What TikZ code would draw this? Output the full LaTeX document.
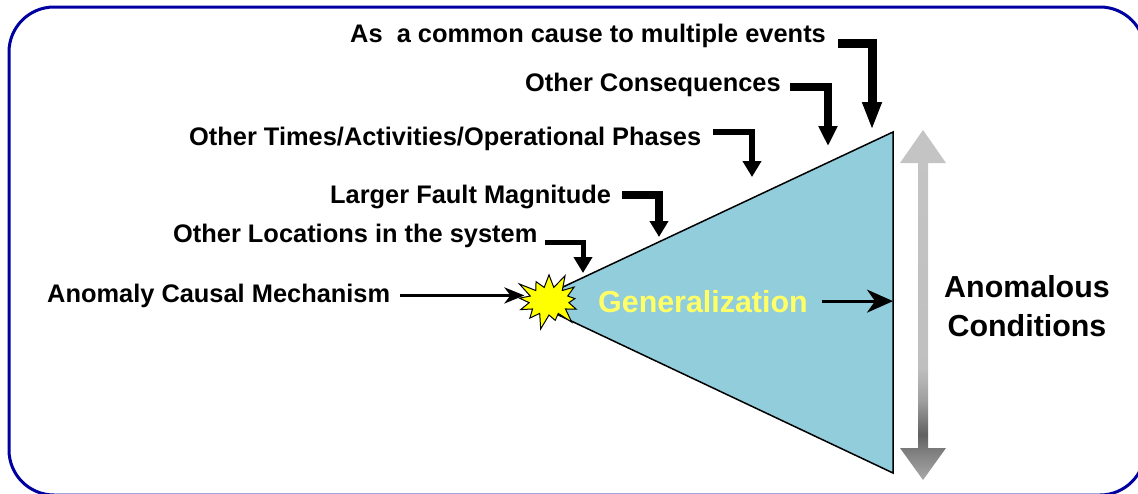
\documentclass[tikz,border=0pt]{standalone}
\usepackage{fontspec}
\setmainfont{Liberation Sans}
\usetikzlibrary{arrows.meta,shapes.symbols}
\definecolor{boxblue}{HTML}{0000A0}
\definecolor{coneblue}{HTML}{92CDDC}
\definecolor{genyellow}{HTML}{FFFF66}
\definecolor{starfill}{HTML}{FFFF00}
\definecolor{grA}{gray}{0.66}
\definecolor{grB}{gray}{0.50}
\definecolor{grC}{gray}{0.38}
\definecolor{grD}{gray}{0.63}
\definecolor{grE}{gray}{0.75}
\definecolor{grF}{gray}{0.77}
\pgfdeclareverticalshading{rangegray}{100bp}{color(0bp)=(grA); color(25bp)=(grA);
  color(29bp)=(grB); color(31.5bp)=(grC); color(36.5bp)=(grD); color(41bp)=(grE);
  color(75bp)=(grF); color(100bp)=(grF)}
\begin{document}
\begin{tikzpicture}[x=1pt,y=-1pt, line join=miter,
    lbl/.style={font=\fontsize{25.4}{30}\selectfont\bfseries, inner sep=0pt, anchor=base west},
    big/.style={font=\fontsize{30.4}{38}\selectfont\bfseries, inner sep=0pt},
    elbow/.style args={#1/#2}{line width=#1, -{Triangle[length=#2, width=18pt]}},
    thinarrow/.style={line width=3pt, -{Stealth[length=20pt, width=16pt, inset=6pt]}},
    genarrow/.style={line width=3pt, -{Stealth[length=26pt, width=23pt, inset=8pt]}}]
    \useasboundingbox (0,0) rectangle (1138,493);
    % frame
    \draw[boxblue, line width=3pt, rounded corners=45pt] (9,7) rectangle (1145,495);
    % range arrow
    \shade[shading=rangegray] (923,130) -- (946,163) -- (928,163) -- (928,448) -- (946,448)
        -- (923,480) -- (900,448) -- (918,448) -- (918,163) -- (900,163) -- cycle;
    % cone
    \coordinate (apex) at (531,302);
    \coordinate (topr) at (893,132);
    \coordinate (botr) at (893,473);
    \draw[fill=coneblue, line width=1.5pt] (apex) -- (topr) -- (botr) -- cycle;
    \node[starburst, draw, fill=starfill, line width=1pt, starburst points=13,
        starburst point height=17pt, minimum width=74pt, minimum height=62pt,
        inner sep=0pt] (burst) at (549,301) {};
    % labels
    \node[lbl] (events) at (350,42) {As\ \ a common cause to multiple events};
    \node[lbl] (conseq) at (525,91) {Other Consequences};
    \node[lbl] (times) at (189,145) {Other Times/Activities/Operational Phases};
    \node[lbl] (magn) at (330,203) {Larger Fault Magnitude};
    \node[lbl] (locat) at (173,242) {Other Locations in the system};
    \node[lbl] (causal) at (47,302) {Anomaly Causal Mechanism};
    \node[big, text=genyellow, anchor=base west] (gen) at (598,312) {Generalization};
    \node[big, align=center] (cond) at (1027,306) {Anomalous\\[1pt]Conditions};
    % bent arrows
    \coordinate (s1) at (838,43);  \coordinate (t1) at (872,130);
    \coordinate (s2) at (790,87);  \coordinate (t2) at (828,146);
    \coordinate (s3) at (713,132); \coordinate (t3) at (752,177);
    \coordinate (s4) at (622,195); \coordinate (t4) at (659,237);
    \coordinate (s5) at (545,242); \coordinate (t5) at (583,273);
    \draw[elbow=9pt/28pt] (s1) -| (t1);
    \draw[elbow=8pt/20pt] (s2) -| (t2);
    \draw[elbow=6pt/16pt] (s3) -| (t3);
    \draw[elbow=8pt/16pt] (s4) -| (t4);
    \draw[elbow=5pt/16pt] (s5) -| (t5);
    \draw[thinarrow] ([xshift=10pt]causal.east) -- (causal.east -| burst.west);
    \draw[genarrow] ([xshift=14pt]gen.east) -- (gen.east -| topr);
\end{tikzpicture}
\end{document}
